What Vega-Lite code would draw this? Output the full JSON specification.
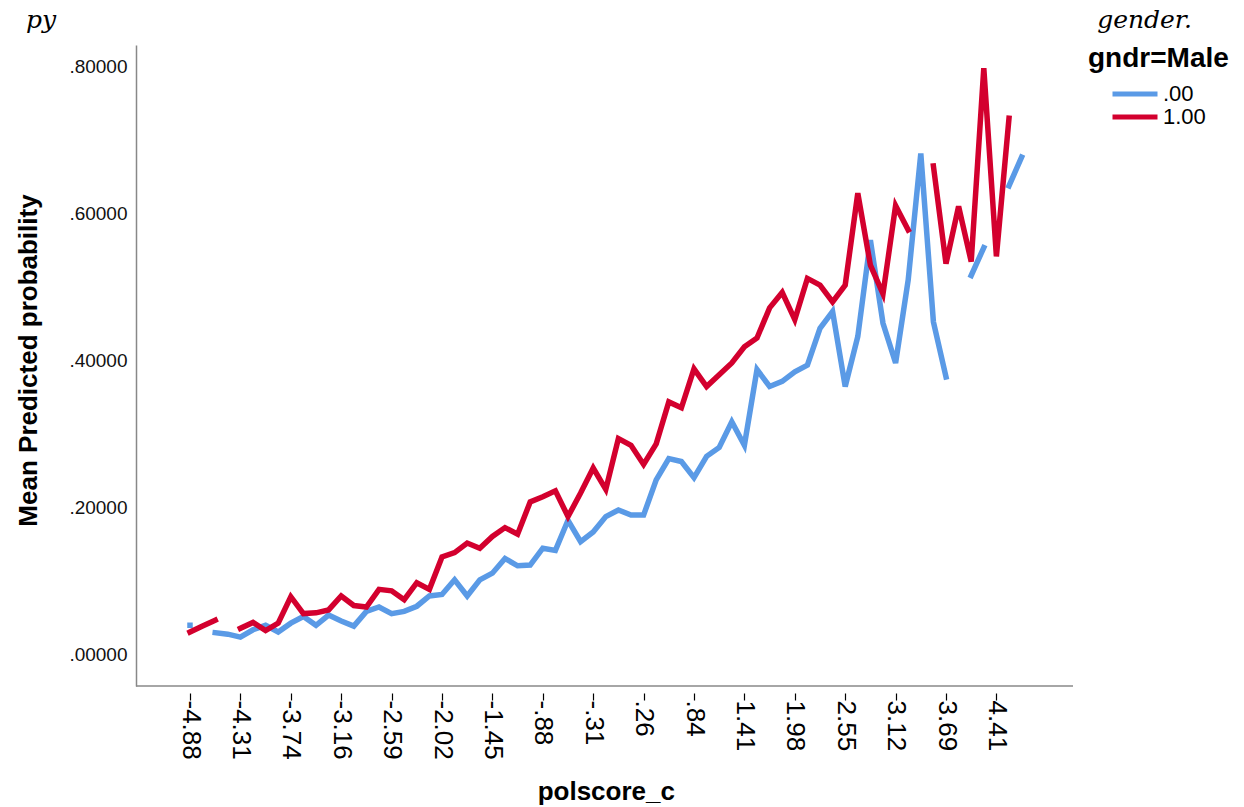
{
  "$schema": "https://vega.github.io/schema/vega-lite/v6.json",
  "width": 937,
  "height": 641,
  "autosize": {"type": "none"},
  "padding": {"left": 136, "top": 45, "right": 171, "bottom": 121},
  "background": "white",
  "config": {"font": "Liberation Sans", "view": {"stroke": null}},
  "title": {
    "text": "py\u00a0\u00a0\u00a0\u00a0\u00a0\u00a0\u00a0\u00a0\u00a0\u00a0\u00a0\u00a0\u00a0\u00a0\u00a0\u00a0\u00a0\u00a0\u00a0\u00a0\u00a0\u00a0\u00a0\u00a0\u00a0\u00a0\u00a0\u00a0\u00a0\u00a0\u00a0\u00a0\u00a0\u00a0\u00a0\u00a0\u00a0\u00a0\u00a0\u00a0\u00a0\u00a0\u00a0\u00a0\u00a0\u00a0\u00a0\u00a0\u00a0\u00a0\u00a0\u00a0\u00a0\u00a0\u00a0\u00a0\u00a0\u00a0\u00a0\u00a0\u00a0\u00a0\u00a0\u00a0\u00a0\u00a0\u00a0\u00a0\u00a0\u00a0\u00a0\u00a0\u00a0\u00a0\u00a0\u00a0\u00a0\u00a0\u00a0\u00a0\u00a0\u00a0\u00a0\u00a0\u00a0\u00a0\u00a0\u00a0\u00a0\u00a0\u00a0\u00a0\u00a0\u00a0\u00a0\u00a0\u00a0\u00a0\u00a0\u00a0\u00a0\u00a0\u00a0\u00a0\u00a0\u00a0\u00a0\u00a0\u00a0\u00a0\u00a0\u00a0\u00a0\u00a0\u00a0\u00a0\u00a0\u00a0\u00a0\u00a0\u00a0\u00a0\u00a0\u00a0\u00a0\u00a0\u00a0\u00a0\u00a0\u00a0\u00a0gender.",
    "anchor": "end",
    "frame": "group",
    "dx": 119,
    "dy": 21,
    "offset": 13,
    "baseline": "alphabetic",
    "font": "DejaVu Serif",
    "fontStyle": "italic",
    "fontWeight": "normal",
    "fontSize": 25,
    "color": "#000000"
  },
  "data": {
    "values": [
      {"polscore_c": "-4.88", "gndr": ".00", "prob": 0.039},
      {"polscore_c": "-4.74", "gndr": ".00", "prob": null},
      {"polscore_c": "-4.59", "gndr": ".00", "prob": 0.029},
      {"polscore_c": "-4.45", "gndr": ".00", "prob": 0.027},
      {"polscore_c": "-4.31", "gndr": ".00", "prob": 0.023},
      {"polscore_c": "-4.16", "gndr": ".00", "prob": 0.033},
      {"polscore_c": "-4.02", "gndr": ".00", "prob": 0.039},
      {"polscore_c": "-3.88", "gndr": ".00", "prob": 0.030},
      {"polscore_c": "-3.74", "gndr": ".00", "prob": 0.042},
      {"polscore_c": "-3.59", "gndr": ".00", "prob": 0.051},
      {"polscore_c": "-3.45", "gndr": ".00", "prob": 0.039},
      {"polscore_c": "-3.31", "gndr": ".00", "prob": 0.053},
      {"polscore_c": "-3.16", "gndr": ".00", "prob": 0.045},
      {"polscore_c": "-3.02", "gndr": ".00", "prob": 0.038},
      {"polscore_c": "-2.88", "gndr": ".00", "prob": 0.058},
      {"polscore_c": "-2.74", "gndr": ".00", "prob": 0.064},
      {"polscore_c": "-2.59", "gndr": ".00", "prob": 0.055},
      {"polscore_c": "-2.45", "gndr": ".00", "prob": 0.058},
      {"polscore_c": "-2.31", "gndr": ".00", "prob": 0.065},
      {"polscore_c": "-2.16", "gndr": ".00", "prob": 0.079},
      {"polscore_c": "-2.02", "gndr": ".00", "prob": 0.081},
      {"polscore_c": "-1.88", "gndr": ".00", "prob": 0.101},
      {"polscore_c": "-1.74", "gndr": ".00", "prob": 0.079},
      {"polscore_c": "-1.59", "gndr": ".00", "prob": 0.101},
      {"polscore_c": "-1.45", "gndr": ".00", "prob": 0.110},
      {"polscore_c": "-1.31", "gndr": ".00", "prob": 0.130},
      {"polscore_c": "-1.16", "gndr": ".00", "prob": 0.120},
      {"polscore_c": "-1.02", "gndr": ".00", "prob": 0.121},
      {"polscore_c": "-.88", "gndr": ".00", "prob": 0.144},
      {"polscore_c": "-.74", "gndr": ".00", "prob": 0.141},
      {"polscore_c": "-.59", "gndr": ".00", "prob": 0.182},
      {"polscore_c": "-.45", "gndr": ".00", "prob": 0.153},
      {"polscore_c": "-.31", "gndr": ".00", "prob": 0.166},
      {"polscore_c": "-.16", "gndr": ".00", "prob": 0.187},
      {"polscore_c": "-.02", "gndr": ".00", "prob": 0.196},
      {"polscore_c": ".12", "gndr": ".00", "prob": 0.189},
      {"polscore_c": ".26", "gndr": ".00", "prob": 0.189},
      {"polscore_c": ".41", "gndr": ".00", "prob": 0.237},
      {"polscore_c": ".55", "gndr": ".00", "prob": 0.266},
      {"polscore_c": ".69", "gndr": ".00", "prob": 0.262},
      {"polscore_c": ".84", "gndr": ".00", "prob": 0.240},
      {"polscore_c": ".98", "gndr": ".00", "prob": 0.269},
      {"polscore_c": "1.12", "gndr": ".00", "prob": 0.281},
      {"polscore_c": "1.26", "gndr": ".00", "prob": 0.316},
      {"polscore_c": "1.41", "gndr": ".00", "prob": 0.284},
      {"polscore_c": "1.55", "gndr": ".00", "prob": 0.387},
      {"polscore_c": "1.69", "gndr": ".00", "prob": 0.364},
      {"polscore_c": "1.84", "gndr": ".00", "prob": 0.371},
      {"polscore_c": "1.98", "gndr": ".00", "prob": 0.384},
      {"polscore_c": "2.12", "gndr": ".00", "prob": 0.393},
      {"polscore_c": "2.26", "gndr": ".00", "prob": 0.443},
      {"polscore_c": "2.41", "gndr": ".00", "prob": 0.466},
      {"polscore_c": "2.55", "gndr": ".00", "prob": 0.364},
      {"polscore_c": "2.69", "gndr": ".00", "prob": 0.432},
      {"polscore_c": "2.84", "gndr": ".00", "prob": 0.563},
      {"polscore_c": "2.98", "gndr": ".00", "prob": 0.450},
      {"polscore_c": "3.12", "gndr": ".00", "prob": 0.396},
      {"polscore_c": "3.26", "gndr": ".00", "prob": 0.509},
      {"polscore_c": "3.41", "gndr": ".00", "prob": 0.681},
      {"polscore_c": "3.55", "gndr": ".00", "prob": 0.452},
      {"polscore_c": "3.69", "gndr": ".00", "prob": 0.377},
      {"polscore_c": "3.84", "gndr": ".00", "prob": null},
      {"polscore_c": "3.98", "gndr": ".00", "prob": 0.515},
      {"polscore_c": "4.12", "gndr": ".00", "prob": 0.553},
      {"polscore_c": "4.41", "gndr": ".00", "prob": null},
      {"polscore_c": "4.55", "gndr": ".00", "prob": 0.637},
      {"polscore_c": "4.69", "gndr": ".00", "prob": 0.676},
      {"polscore_c": "-4.88", "gndr": "1.00", "prob": 0.030},
      {"polscore_c": "-4.74", "gndr": "1.00", "prob": 0.038},
      {"polscore_c": "-4.59", "gndr": "1.00", "prob": 0.046},
      {"polscore_c": "-4.45", "gndr": "1.00", "prob": null},
      {"polscore_c": "-4.31", "gndr": "1.00", "prob": 0.035},
      {"polscore_c": "-4.16", "gndr": "1.00", "prob": 0.043},
      {"polscore_c": "-4.02", "gndr": "1.00", "prob": 0.032},
      {"polscore_c": "-3.88", "gndr": "1.00", "prob": 0.042},
      {"polscore_c": "-3.74", "gndr": "1.00", "prob": 0.078},
      {"polscore_c": "-3.59", "gndr": "1.00", "prob": 0.055},
      {"polscore_c": "-3.45", "gndr": "1.00", "prob": 0.056},
      {"polscore_c": "-3.31", "gndr": "1.00", "prob": 0.060},
      {"polscore_c": "-3.16", "gndr": "1.00", "prob": 0.079},
      {"polscore_c": "-3.02", "gndr": "1.00", "prob": 0.066},
      {"polscore_c": "-2.88", "gndr": "1.00", "prob": 0.064},
      {"polscore_c": "-2.74", "gndr": "1.00", "prob": 0.088},
      {"polscore_c": "-2.59", "gndr": "1.00", "prob": 0.086},
      {"polscore_c": "-2.45", "gndr": "1.00", "prob": 0.074},
      {"polscore_c": "-2.31", "gndr": "1.00", "prob": 0.097},
      {"polscore_c": "-2.16", "gndr": "1.00", "prob": 0.088},
      {"polscore_c": "-2.02", "gndr": "1.00", "prob": 0.132},
      {"polscore_c": "-1.88", "gndr": "1.00", "prob": 0.138},
      {"polscore_c": "-1.74", "gndr": "1.00", "prob": 0.151},
      {"polscore_c": "-1.59", "gndr": "1.00", "prob": 0.144},
      {"polscore_c": "-1.45", "gndr": "1.00", "prob": 0.160},
      {"polscore_c": "-1.31", "gndr": "1.00", "prob": 0.172},
      {"polscore_c": "-1.16", "gndr": "1.00", "prob": 0.163},
      {"polscore_c": "-1.02", "gndr": "1.00", "prob": 0.207},
      {"polscore_c": "-.88", "gndr": "1.00", "prob": 0.214},
      {"polscore_c": "-.74", "gndr": "1.00", "prob": 0.222},
      {"polscore_c": "-.59", "gndr": "1.00", "prob": 0.187},
      {"polscore_c": "-.45", "gndr": "1.00", "prob": 0.219},
      {"polscore_c": "-.31", "gndr": "1.00", "prob": 0.253},
      {"polscore_c": "-.16", "gndr": "1.00", "prob": 0.224},
      {"polscore_c": "-.02", "gndr": "1.00", "prob": 0.293},
      {"polscore_c": ".12", "gndr": "1.00", "prob": 0.284},
      {"polscore_c": ".26", "gndr": "1.00", "prob": 0.258},
      {"polscore_c": ".41", "gndr": "1.00", "prob": 0.286},
      {"polscore_c": ".55", "gndr": "1.00", "prob": 0.343},
      {"polscore_c": ".69", "gndr": "1.00", "prob": 0.335},
      {"polscore_c": ".84", "gndr": "1.00", "prob": 0.388},
      {"polscore_c": ".98", "gndr": "1.00", "prob": 0.364},
      {"polscore_c": "1.12", "gndr": "1.00", "prob": 0.380},
      {"polscore_c": "1.26", "gndr": "1.00", "prob": 0.396},
      {"polscore_c": "1.41", "gndr": "1.00", "prob": 0.418},
      {"polscore_c": "1.55", "gndr": "1.00", "prob": 0.430},
      {"polscore_c": "1.69", "gndr": "1.00", "prob": 0.471},
      {"polscore_c": "1.84", "gndr": "1.00", "prob": 0.492},
      {"polscore_c": "1.98", "gndr": "1.00", "prob": 0.455},
      {"polscore_c": "2.12", "gndr": "1.00", "prob": 0.511},
      {"polscore_c": "2.26", "gndr": "1.00", "prob": 0.502},
      {"polscore_c": "2.41", "gndr": "1.00", "prob": 0.479},
      {"polscore_c": "2.55", "gndr": "1.00", "prob": 0.502},
      {"polscore_c": "2.69", "gndr": "1.00", "prob": 0.627},
      {"polscore_c": "2.84", "gndr": "1.00", "prob": 0.529},
      {"polscore_c": "2.98", "gndr": "1.00", "prob": 0.490},
      {"polscore_c": "3.12", "gndr": "1.00", "prob": 0.610},
      {"polscore_c": "3.26", "gndr": "1.00", "prob": 0.577},
      {"polscore_c": "3.41", "gndr": "1.00", "prob": null},
      {"polscore_c": "3.55", "gndr": "1.00", "prob": 0.664},
      {"polscore_c": "3.69", "gndr": "1.00", "prob": 0.531},
      {"polscore_c": "3.84", "gndr": "1.00", "prob": 0.609},
      {"polscore_c": "3.98", "gndr": "1.00", "prob": 0.534},
      {"polscore_c": "4.12", "gndr": "1.00", "prob": 0.797},
      {"polscore_c": "4.41", "gndr": "1.00", "prob": 0.541},
      {"polscore_c": "4.55", "gndr": "1.00", "prob": 0.729}
    ]
  },
  "layer": [
    {
      "mark": {"type": "line", "strokeWidth": 5.5, "strokeCap": "square", "strokeJoin": "miter"},
      "encoding": {
        "x": {
          "field": "polscore_c",
          "type": "ordinal",
          "sort": null,
          "scale": {"type": "point", "range": [54, 885.6], "padding": 0},
          "axis": {
            "title": "polscore_c",
            "values": ["-4.88", "-4.31", "-3.74", "-3.16", "-2.59", "-2.02", "-1.45", "-.88", "-.31", ".26", ".84", "1.41", "1.98", "2.55", "3.12", "3.69", "4.41"],
            "domain": false,
            "offset": 7,
            "tickSize": 7,
            "tickColor": "#000000",
            "tickWidth": 1.2,
            "labelAngle": 90,
            "labelAlign": "left",
            "labelBaseline": "middle",
            "labelPadding": 0,
            "labelFont": "Liberation Sans",
            "labelFontSize": 26,
            "labelColor": "#000000",
            "titleFont": "Liberation Sans",
            "titleFontSize": 26,
            "titleFontWeight": "bold",
            "titleColor": "#000000",
            "titleBaseline": "alphabetic",
            "titleY": 106
          }
        },
        "y": {
          "field": "prob",
          "type": "quantitative",
          "scale": {"domain": [-0.0435, 0.8286], "nice": false, "zero": false},
          "axis": {
            "title": "Mean Predicted probability",
            "values": [0, 0.2, 0.4, 0.6, 0.8],
            "labelExpr": "replace(format(datum.value, '.5f'), '0.', '.')",
            "grid": false,
            "ticks": false,
            "domainColor": "#888888",
            "domainWidth": 1.5,
            "labelPadding": 9,
            "labelFont": "Liberation Sans",
            "labelFontSize": 19,
            "labelColor": "#111111",
            "titleFont": "Liberation Sans",
            "titleFontSize": 26,
            "titleFontWeight": "bold",
            "titleColor": "#000000",
            "titleAngle": -90,
            "titleAlign": "center",
            "titleBaseline": "middle",
            "titleX": -108,
            "titleY": 315
          }
        },
        "color": {
          "field": "gndr",
          "type": "nominal",
          "scale": {"domain": [".00", "1.00"], "range": ["#5A9AE6", "#D3002E"]},
          "legend": {
            "title": "gndr=Male",
            "orient": "right",
            "offset": 15,
            "titleFont": "Liberation Sans",
            "titleFontSize": 28,
            "titleFontWeight": "bold",
            "titleColor": "#000000",
            "titlePadding": 10,
            "labelFont": "Liberation Sans",
            "labelFontSize": 22,
            "labelColor": "#000000",
            "labelOffset": 17,
            "symbolType": "M-3,0H3",
            "symbolSize": 225,
            "symbolStrokeWidth": 5,
            "symbolOffset": 36,
            "rowPadding": 1
          }
        }
      }
    },
    {
      "data": {"values": [{}]},
      "mark": {"type": "rule", "color": "#888888", "strokeWidth": 1.5},
      "encoding": {"y": {"datum": -0.0435}}
    }
  ]
}
